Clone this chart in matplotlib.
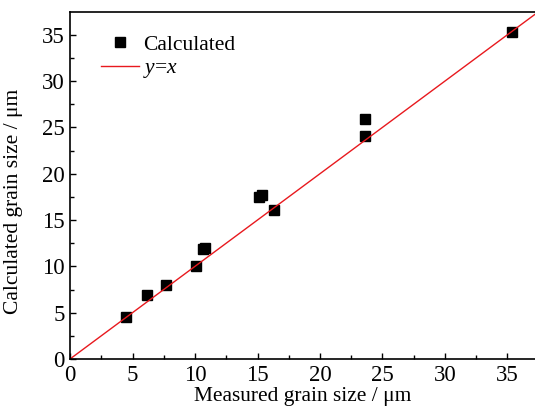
import numpy as np
import matplotlib
matplotlib.use('Agg')
import matplotlib.pyplot as plt
from matplotlib.ticker import MultipleLocator

# measured vs calculated grain size (um)
measured = [4.46, 6.19, 7.68, 10.08, 10.61, 10.77, 15.15, 15.36, 16.29, 23.63, 23.63, 35.33]
calculated = [4.57, 6.91, 7.99, 10.04, 11.88, 11.99, 17.46, 17.71, 16.06, 25.92, 24.11, 35.28]
line_range = [0, 37.5]

plt.rcParams['font.family'] = ['Liberation Serif', 'DejaVu Serif']
plt.rcParams['mathtext.fontset'] = 'custom'
plt.rcParams['mathtext.it'] = 'Liberation Serif:italic'
plt.rcParams['mathtext.rm'] = 'Liberation Serif'

fig = plt.figure(figsize=(5.35, 4.09), dpi=100)
ax = fig.add_axes([70 / 535, 1 - 359 / 409, 465 / 535, 347 / 409])

ax.plot(measured, calculated, 's', color='black', markersize=7.5, label='Calculated')
ax.plot(line_range, line_range, '-', color='#e8191e', linewidth=1.0, label='$y$=$x$')

ax.set_xlim(0, 37.2)
ax.set_ylim(0, 37.45)
ax.xaxis.set_major_locator(MultipleLocator(5))
ax.xaxis.set_minor_locator(MultipleLocator(2.5))
ax.yaxis.set_major_locator(MultipleLocator(5))
ax.yaxis.set_minor_locator(MultipleLocator(2.5))
ax.tick_params(which='both', direction='in', labelsize=16.5, width=1.0)
ax.tick_params(which='major', length=4.5, pad=4)
ax.tick_params(which='minor', length=3)
ax.spines['right'].set_visible(False)
for s in ['left', 'bottom', 'top']:
    ax.spines[s].set_linewidth(1.2)

ax.set_xlabel('Measured grain size / μm', fontsize=15.4, labelpad=1)
ax.set_ylabel('Calculated grain size / μm', fontsize=15.5)
ax.yaxis.set_label_coords(-0.102, 0.455)

ax.legend(loc='upper left', bbox_to_anchor=(0.025, 0.99), frameon=False,
          fontsize=15.5, handlelength=1.75, handletextpad=0.2, labelspacing=0.15,
          numpoints=1)

fig.savefig('out.png', dpi=100)
